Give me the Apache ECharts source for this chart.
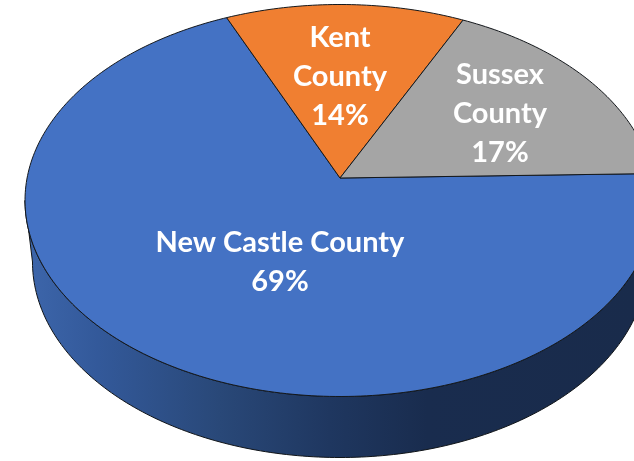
<!DOCTYPE html>
<html>
<head>
<meta charset="utf-8">
<style>html,body{margin:0;padding:0;background:#fff}#c{width:634px;height:461px}</style>
<script src="https://cdn.jsdelivr.net/npm/echarts@6/dist/echarts.min.js"></script>
</head>
<body>
<div id="c"></div>
<script>
var categories = ['New Castle County', 'Kent County', 'Sussex County'];
var labelLines = ['New Castle County', 'Kent\nCounty', 'Sussex\nCounty'];
var values = [68.81, 13.7, 17.49];
var colors = ['#4472C4', '#F07F31', '#A5A5A5'];

// Perspective of the pie's top face, and of its lower rim
var cx = 340, topCy = 200.5, rx = 315, ry = 196, apexDrop = 22.5;
var lowCy = 262, lowRx = 307.5, lowRy = 195.5;
var k = apexDrop / ry;
var a = rx * Math.sqrt(1 - k * k), b = ry * (1 - k * k);
var apexY = topCy - apexDrop;
var startDeg = -23.6; // where Kent County begins, clockwise from the back

function project(deg) {
  var t = deg * Math.PI / 180, X = Math.sin(t), Y = Math.cos(t), w = 1 + k * Y;
  return [cx + a * X / w, apexY - b * Y / w];
}
var total = values.reduce(function (s, v) { return s + v; }, 0);
// Drawing order around the circle: Kent, Sussex, New Castle
var order = [1, 2, 0], startOf = {}, acc = startDeg;
order.forEach(function (i) { startOf[i] = acc; acc += values[i] / total * 360; });

var labelAt = [[280, 262], [340, 77], [500, 114]];

function wallPoints() {
  var pts = [], d;
  for (d = 0; d <= 180; d += 1) {
    var t = d * Math.PI / 180;
    pts.push([cx + rx * Math.cos(t), topCy + ry * Math.sin(t)]);
  }
  for (d = 180; d >= 0; d -= 1) {
    var u = d * Math.PI / 180;
    pts.push([cx + lowRx * Math.cos(u), lowCy + lowRy * Math.sin(u)]);
  }
  return pts;
}

var chart = echarts.init(document.getElementById('c'), null, { renderer: 'canvas' });
chart.setOption({
  animation: false,
  backgroundColor: '#ffffff',
  series: [
    {
      type: 'custom',
      coordinateSystem: 'none',
      silent: true,
      z: 1,
      data: [values[0]],
      renderItem: function () {
        return {
          type: 'polygon',
          shape: { points: wallPoints() },
          style: {
            fill: new echarts.graphic.LinearGradient(25, 0, 634, 0, [
              { offset: 0, color: '#3D66AB' },
              { offset: 0.12, color: '#33599A' },
              { offset: 0.32, color: '#294878' },
              { offset: 0.5, color: '#1F3760' },
              { offset: 0.66, color: '#192C4E' },
              { offset: 1, color: '#192B4B' }
            ], true),
            stroke: '#101418',
            lineWidth: 1
          }
        };
      }
    },
    {
      type: 'custom',
      coordinateSystem: 'none',
      silent: true,
      z: 2,
      data: categories.map(function (c, i) { return { name: c, value: values[i] }; }),
      renderItem: function (params, api) {
        var i = params.dataIndex, v = api.value(0);
        var from = startOf[i], sweep = v / total * 360;
        var pts = [[cx, apexY]];
        for (var s = 0; s <= sweep; s += 1) pts.push(project(from + s));
        pts.push(project(from + sweep));
        return {
          type: 'group',
          children: [
            {
              type: 'polygon',
              shape: { points: pts },
              style: { fill: colors[i], stroke: '#14181c', lineWidth: 1, lineJoin: 'round' }
            },
            {
              type: 'text',
              z2: 10,
              style: {
                x: labelAt[i][0], y: labelAt[i][1],
                text: labelLines[i] + '\n' + Math.round(v) + '%',
                fill: '#ffffff',
                font: '700 29px Lato',
                lineHeight: 39,
                align: 'center',
                verticalAlign: 'middle'
              }
            }
          ]
        };
      }
    }
  ]
});
</script>
</body>
</html>
